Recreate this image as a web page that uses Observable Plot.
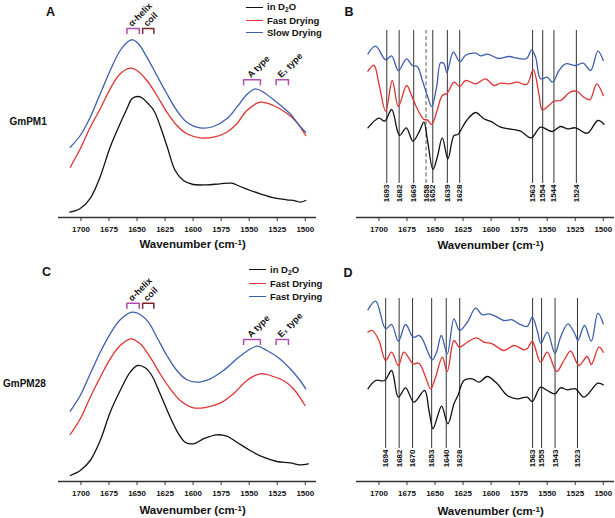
<!DOCTYPE html>
<html><head><meta charset="utf-8">
<script src="https://cdn.jsdelivr.net/npm/d3@7"></script>
<script src="https://cdn.jsdelivr.net/npm/@observablehq/plot@0.6"></script>
<style>
html,body{margin:0;padding:0;background:#fff;}
#fig{position:relative;width:615px;height:518px;overflow:hidden;font-family:'Liberation Sans',Arial,Helvetica,sans-serif;color:#111;}
.panel{position:absolute;}
.panel svg{overflow:visible;background:transparent;max-width:none;display:block;}
.t{position:absolute;white-space:nowrap;font-weight:bold;line-height:1;}
.c{transform:translate(-50%,-50%);}
.l{transform:translate(0,-50%);}
.sw{position:absolute;height:0;border-top:1.6px solid;}
sub{font-size:70%;vertical-align:-0.25em;line-height:0;}
sup{font-size:70%;vertical-align:0.45em;line-height:0;}
</style></head><body><div id="fig"></div>
<script>
// ---------- DATA (wavenumber cm-1, intensity in arbitrary units) ----------
const xTicks = [1700, 1675, 1650, 1625, 1600, 1575, 1550, 1525, 1500];

// Panel A: GmPM1 absorbance spectra
const aD2O = [[1710,5.3],[1701,8.7],[1692,18.7],[1683,40.3],[1674,70.3],[1666.5,90.3],[1659,108.7],[1654.6,118.7],[1649.6,121],[1645.7,119.7],[1640,113.7],[1635,107],[1629,90.3],[1623,70.3],[1616,47],[1608.6,37],[1600,33],[1588,32.7],[1576,33.7],[1565.5,34.3],[1558,31],[1549,27],[1540,23.7],[1528,19.7],[1516.5,17.7],[1509,16.7],[1504.6,15.3],[1499.6,17]];
const aFast = [[1709.5,50.3],[1700.6,68.7],[1691.7,90.3],[1682.8,108.7],[1673.9,128.7],[1665,143.7],[1656.1,149.3],[1650.1,147],[1641.2,137],[1632.3,122],[1623.4,105.3],[1614.5,92],[1605.6,83.7],[1593.7,79.7],[1581.9,80.3],[1570,85.3],[1561,93.7],[1552.1,107],[1540.3,115.3],[1528.4,112],[1516.5,104.3],[1507.6,95.3],[1499.6,82]];
const aSlow = [[1709.5,70.3],[1700.6,82],[1691.7,100.3],[1682.8,123.7],[1673.9,147],[1665,167],[1657.6,176.3],[1653.7,177.7],[1648.7,173.7],[1641.2,160.3],[1632.3,142],[1623.4,123.7],[1614.5,107],[1605.6,95.3],[1593.7,89.7],[1581.9,91],[1570,98.7],[1561,110.3],[1552.1,123],[1544.7,128.7],[1537.3,125.3],[1525.4,115.3],[1513.5,103.7],[1504.6,91],[1499.6,85.3]];

// Panel B: GmPM1 second-derivative spectra
const bD2O = [[1709.8,89.7],[1700,99.3],[1694.9,96.3],[1688.7,108],[1683.6,87],[1681.5,82],[1675.6,89.7],[1669.7,76.3],[1664.3,85.3],[1659.9,95.3],[1656.9,78.7],[1651.8,48],[1648,60.3],[1643.5,79.7],[1638.5,58.7],[1633.1,82],[1629.6,83],[1627.2,87],[1621.8,97],[1613.8,105],[1606.4,98.7],[1599,95.3],[1591.5,90.3],[1582.6,88.3],[1573.7,86.3],[1564.2,79.7],[1555.9,90.3],[1545.5,86],[1538.1,91],[1532.1,88.7],[1524.7,89.7],[1514.3,84.3],[1504.8,97],[1499.4,93.3]];
const bFast = [[1709.8,146.3],[1704.4,152],[1700,133.7],[1694,106.3],[1688.1,137],[1682.7,111],[1675.3,132],[1670.3,120.3],[1665.8,108.7],[1659.9,98],[1656.9,97.7],[1653,93],[1648.6,105.3],[1643.5,122],[1639.1,124.3],[1633.1,135.3],[1627.8,131],[1622.7,137],[1613.8,133.7],[1604.9,138.7],[1597.5,132],[1591.5,134.3],[1584.1,133.7],[1576.7,135.3],[1568.3,133],[1562.4,147.7],[1557.4,123.7],[1554.4,107.7],[1548.4,112],[1544,116.3],[1538.1,117],[1529.1,125.7],[1523.2,126],[1517.3,120.3],[1511.9,117.7],[1505.9,133.7],[1500,122]];
const bSlow = [[1709.8,163.7],[1702.9,171.3],[1694,157.7],[1688.7,161.7],[1682.7,147],[1675.3,158.7],[1670.3,152],[1665.8,151],[1661.3,137],[1656.9,122],[1653,111],[1648.6,130.3],[1645,154.7],[1642,153.7],[1639.4,145],[1633.7,165.3],[1627.8,155.7],[1622.7,162.3],[1613.8,164.3],[1609.4,161.7],[1603.4,163.3],[1593,159],[1584.1,161],[1576.7,159.3],[1568.3,159],[1563.9,167.7],[1560.3,160.3],[1555.9,138.7],[1549.9,140.3],[1545.2,135.3],[1539.5,147],[1533.6,153.7],[1524.7,152],[1517.9,154.3],[1511.3,147],[1504.8,166.3],[1500,157]];
const bBands = [1693, 1682, 1669, 1658, 1652, 1639, 1628, 1563, 1554, 1544, 1524];
const bDashed = [1658];

// Panel C: GmPM28 absorbance spectra
const cD2O = [[1709.5,6],[1700.6,11],[1691.7,21],[1682.8,41],[1673.9,69.3],[1665,91],[1656.1,109.3],[1649.6,116],[1642.7,113.7],[1636.8,106],[1629.4,87.7],[1620.4,64.3],[1613,47.7],[1607.1,39.3],[1599.7,37.7],[1590.8,42.7],[1578.9,46.7],[1570,45.3],[1561,39.3],[1549.2,31],[1537.3,24.3],[1525.4,20],[1513.5,18.7],[1504.6,16.7],[1497.2,17.7]];
const cFast = [[1709.5,47],[1700.6,62.7],[1691.7,84.3],[1682.8,104.3],[1673.9,122.7],[1665,136],[1655.5,142.7],[1647.2,137.7],[1638.3,124.3],[1629.4,107.7],[1620.4,92.7],[1611.5,81],[1599.7,73.7],[1587.8,74.3],[1575.9,78.3],[1564,87.7],[1552.1,101],[1540.3,107.7],[1528.4,105],[1519.5,101],[1510.6,92.7],[1500.2,76]];
const cFast2 = [[1709.5,70.3],[1700.6,86],[1691.7,107.7],[1682.8,129.3],[1673.9,147.7],[1665,161.7],[1654.6,169.3],[1647.2,167],[1639.8,159.3],[1632.3,144.3],[1623.4,126],[1614.5,111],[1605.6,101.7],[1596.7,99.3],[1584.8,102.7],[1573,111],[1561,122.7],[1552.1,130.3],[1543.2,135.3],[1534.3,131],[1523.9,123.7],[1513.5,112.7],[1504.6,101],[1499.6,92.7]];

// Panel D: GmPM28 second-derivative spectra
const dD2O = [[1709.8,92.7],[1702.9,101],[1694.9,101],[1688.7,111],[1682.7,84.3],[1676.2,93.7],[1668.8,79.3],[1659.3,91],[1655.4,71],[1651.8,52.7],[1648,64.3],[1644.1,75.3],[1638.5,57.7],[1633.1,77.7],[1629.6,86],[1624.2,101],[1616.8,102.7],[1610.8,99.3],[1603.4,105],[1594.5,97.7],[1585.6,86],[1576.7,82.7],[1567.8,84.3],[1563.3,80],[1555.9,94.3],[1549.9,91],[1543.1,87.7],[1538.1,93.7],[1532.1,91.7],[1524.7,92.7],[1517.3,84.3],[1504.8,98.3],[1500,96.7]];
const dFast = [[1709.8,149.3],[1705.9,151],[1700,141],[1694,121],[1688.7,129.3],[1682.7,116],[1677.7,129.3],[1669.4,117.7],[1664.3,118.3],[1658.4,104.3],[1653.9,92.7],[1649.5,104.3],[1643.5,124.3],[1639.1,110],[1633.1,141],[1628.1,134.3],[1621.2,139.3],[1612.9,143.7],[1606.4,139.3],[1599,137.7],[1588.6,131],[1579.6,136],[1570.7,131.7],[1567.8,132.7],[1563.3,140],[1555.9,119.3],[1549.9,129.3],[1541.6,110],[1535.1,121],[1529.1,130.3],[1521.7,116],[1514.3,125],[1510.7,117],[1503.9,134.3],[1500,129.3]];
const dFast2 = [[1709.8,171.7],[1702.9,180.3],[1694,152.7],[1688.7,157],[1682.7,140.3],[1676.2,157],[1669.4,144.3],[1664.3,146],[1661.3,142.7],[1656.9,131],[1652.4,121.7],[1648.6,129.3],[1644.4,146],[1639.1,127.7],[1633.1,162.7],[1628.1,151],[1621.2,159.3],[1613.8,173.3],[1607.9,166.7],[1601.9,167.7],[1594.5,164.3],[1588.6,161],[1581.1,161.7],[1575.2,157.7],[1567.8,155],[1563.3,164.3],[1558.9,151],[1555.6,138.3],[1549.9,149.3],[1543.1,128.3],[1538.1,144.3],[1531.5,157.7],[1524.7,146],[1522.6,141],[1516.7,156],[1510.7,140.3],[1504.8,168.3],[1500,157.7]];
const dBands = [1694, 1682, 1670, 1653, 1640, 1628, 1563, 1555, 1543, 1523];

// Band assignment brackets
const bracketNames = ["α-helix", "coil", "A type", "E₁ type"];
const bracketFrom = [1659, 1645, 1555, 1526];
const bracketTo = [1648, 1635, 1540, 1515];

const seriesA = ["in D₂O", "Fast Drying", "Slow Drying"];
const seriesC = ["in D₂O", "Fast Drying", "Fast Drying"];

// ---------- STYLE / LAYOUT ----------
const BLACK = "#111", RED = "#e03232", BLUE = "#3d5fae";
const PURPLE = "#b04cb0", BROWN = "#7a2626";
const X_DOMAIN = [1720, 1490];
const FONT = "'Liberation Sans', Arial, Helvetica, sans-serif";
const fig = document.getElementById("fig");

function rows(pairs) { return pairs.map(([w, v]) => ({w, v})); }

function spectrum(pairs, color) {
  return Plot.line(rows(pairs), {x: "w", y: "v", stroke: color, strokeWidth: 1.3, curve: "catmull-rom"});
}

function basePlot({width, height, marginRight, marginBottom, yMax, marks}) {
  return Plot.plot({
    width, height, marginLeft: 58, marginRight, marginTop: 0, marginBottom,
    x: {domain: X_DOMAIN},
    y: {domain: [0, yMax], axis: null},
    style: {fontFamily: FONT, fontWeight: "bold", background: "transparent", overflow: "visible"},
    marks: [
      ...marks,
      Plot.ruleY([0], {stroke: "#333", strokeWidth: 1.3}),
      Plot.axisX({ticks: xTicks, tickFormat: "d", tickSize: 4, tickPadding: 5, fontSize: 8, label: null, stroke: "#333"})
    ]
  });
}

function bracketMarks(tops) {
  const data = bracketNames.map((name, i) => ({name, from: bracketFrom[i], to: bracketTo[i], top: tops[i], color: name === "coil" ? BROWN : PURPLE}));
  const pts = [];
  data.forEach(d => {
    pts.push({name: d.name, w: d.from, v: d.top - 5, color: d.color});
    pts.push({name: d.name, w: d.from, v: d.top, color: d.color});
    pts.push({name: d.name, w: d.to, v: d.top, color: d.color});
    pts.push({name: d.name, w: d.to, v: d.top - 5, color: d.color});
  });
  return [
    Plot.line(pts, {x: "w", y: "v", z: "name", stroke: "color", strokeWidth: 1.5}),
    Plot.text(data, {x: d => (d.from + d.to) / 2, y: "top", text: "name", rotate: -45, textAnchor: "start", lineAnchor: "bottom", dx: -1, dy: -1.5, fontSize: 9, fill: "#111"})
  ];
}

function bandMarks(bands, dashed, yTop, yBottom) {
  const solid = bands.filter(b => !dashed.includes(b));
  return [
    Plot.ruleX(solid, {x: d => d, y1: yBottom, y2: yTop, stroke: "#333", strokeWidth: 1}),
    Plot.ruleX(dashed, {x: d => d, y1: yBottom, y2: yTop, stroke: "#777", strokeWidth: 1.2, strokeDasharray: "4,2.5"}),
    Plot.text(bands, {x: d => d, y: yBottom - 1, text: d => String(d), rotate: -90, textAnchor: "end", fontSize: 8, fill: "#111"})
  ];
}

function place(el, left, top) {
  const div = document.createElement("div");
  div.className = "panel";
  div.style.left = left + "px";
  div.style.top = top + "px";
  div.appendChild(el);
  fig.appendChild(div);
  return el;
}

function addText(html, x, y, size, cls) {
  const s = document.createElement("div");
  s.className = "t " + cls;
  s.style.left = x + "px";
  s.style.top = y + "px";
  s.style.fontSize = size + "px";
  s.innerHTML = html;
  fig.appendChild(s);
}

function addAxisTitle(plot, left, y) {
  const cx = left + plot.scale("x").apply(1600);
  addText("Wavenumber (cm<sup>-1</sup>)", cx, y, 11.5, "c");
}

function addLegend(names, x0, ys) {
  const colors = [BLACK, RED, BLUE];
  names.forEach((n, i) => {
    const sw = document.createElement("div");
    sw.className = "sw";
    sw.style.left = x0 + "px";
    sw.style.width = "17px";
    sw.style.top = (ys[i] - 0.8) + "px";
    sw.style.borderColor = colors[i];
    fig.appendChild(sw);
    addText(n.replace("₂", "<sub>2</sub>"), x0 + 21, ys[i], 9.5, "l");
  });
}

// ---------- PANELS ----------
const pA = place(basePlot({
  width: 318, height: 260, marginRight: 2, marginBottom: 43, yMax: 217,
  marks: [spectrum(aD2O, BLACK), spectrum(aFast, RED), spectrum(aSlow, BLUE), ...bracketMarks([189, 189, 137.7, 137.7])]
}), 0, 0);

const pB = place(basePlot({
  width: 317, height: 260, marginRight: 1, marginBottom: 43, yMax: 217,
  marks: [...bandMarks(bBands, bDashed, 187, 34), spectrum(bD2O, BLACK), spectrum(bFast, RED), spectrum(bSlow, BLUE)]
}), 298, 0);

const pC = place(basePlot({
  width: 318, height: 258, marginRight: 2, marginBottom: 37, yMax: 221,
  marks: [spectrum(cD2O, BLACK), spectrum(cFast, RED), spectrum(cFast2, BLUE), ...bracketMarks([178.3, 178.3, 142, 142])]
}), 0, 260);

const pD = place(basePlot({
  width: 317, height: 258, marginRight: 1, marginBottom: 37, yMax: 221,
  marks: [...bandMarks(dBands, [], 183, 33), spectrum(dD2O, BLACK), spectrum(dFast, RED), spectrum(dFast2, BLUE)]
}), 298, 260);

addAxisTitle(pA, 0, 245);
addAxisTitle(pB, 298, 246);
addAxisTitle(pC, 0, 511);
addAxisTitle(pD, 298, 512);

addLegend(seriesA, 246, [7.3, 21, 33]);
addLegend(seriesC, 249, [270, 284, 297]);

addText("A", 50.5, 11.5, 12.5, "c");
addText("B", 349, 11.5, 12.5, "c");
addText("C", 46.5, 272, 12.5, "c");
addText("D", 348, 272.5, 12.5, "c");
addText("GmPM1", 9.5, 121.5, 10, "l");
addText("GmPM28", 3, 384, 10, "l");
</script></body></html>
